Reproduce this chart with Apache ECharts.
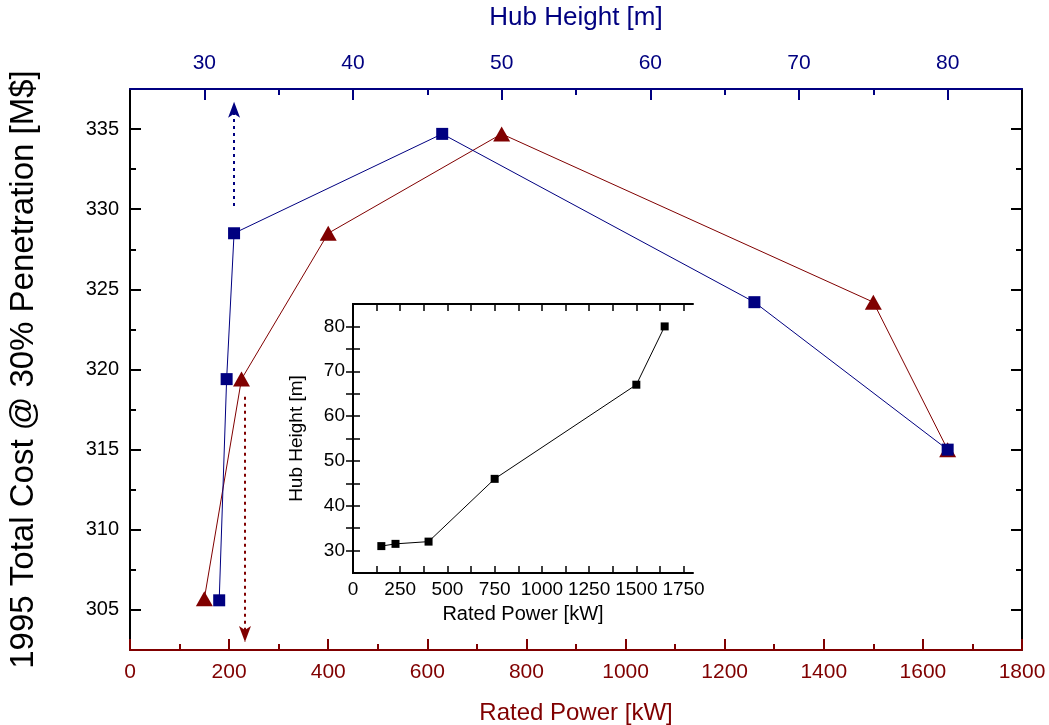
<!DOCTYPE html>
<html>
<head>
<meta charset="utf-8">
<script src="https://cdn.jsdelivr.net/npm/echarts@6/dist/echarts.min.js"></script>
<style>
  html, body { margin: 0; padding: 0; background: #fff; overflow: hidden; }
  #chart { width: 1049px; height: 725px; }
</style>
</head>
<body>
<div id="chart"></div>
<script>
// ---- data ----
const ratedPowerKW = [150, 225, 400, 750, 1500, 1650];
const hubHeightM   = [31, 31.5, 32, 46, 67, 80];
const costVsPower  = [305.7, 319.4, 328.5, 334.7, 324.2, 315.0];
const costVsHeight = [305.6, 319.4, 328.5, 334.7, 324.2, 315.0];

// arrows (data space): [start, end]
const heightArrow = [[32, 330.2], [32, 336.7]];
const powerArrow  = [[232, 318.3], [232, 303.0]];

// ticks
const powerTicks      = [0, 200, 400, 600, 800, 1000, 1200, 1400, 1600, 1800];
const heightTicks     = [30, 40, 50, 60, 70, 80];
const heightMinor     = [35, 45, 55, 65, 75];
const costTicks       = [305, 310, 315, 320, 325, 330, 335];
const costMinor       = [307.5, 312.5, 317.5, 322.5, 327.5, 332.5];
const insetPowerTicks = [0, 250, 500, 750, 1000, 1250, 1500, 1750];
const insetPowerMinor = [125, 375, 625, 875, 1125, 1375, 1625];
const insetHeightTicks = [30, 40, 50, 60, 70, 80];
const insetHeightMinor = [35, 45, 55, 65, 75];

const NAVY = '#000080';
const DRED = '#800000';
const SANS = "'Liberation Sans', Arial, sans-serif";
const plain = (v) => String(v);

const zip = (a, b) => a.map((v, i) => [v, b[i]]);

const chart = echarts.init(document.getElementById('chart'), null, { renderer: 'canvas' });

const option = {
  animation: false,
  backgroundColor: '#fff',
  grid: [
    { left: 130, right: 27, top: 89, bottom: 75, containLabel: false, outerBoundsMode: 'none' },
    { left: 353, top: 304, width: 340, height: 269, show: true, backgroundColor: '#fff', borderWidth: 0, containLabel: false, outerBoundsMode: 'none' }
  ],
  xAxis: [
    { // 0 bottom rated power
      type: 'value', gridIndex: 0, position: 'bottom', min: 0, max: 1800, interval: 200,
      axisLine: { show: true, lineStyle: { color: DRED, width: 2 } },
      axisTick: { show: true, inside: true, length: 11, lineStyle: { color: DRED, width: 2 } },
      minorTick: { show: true, splitNumber: 2, length: 6, lineStyle: { color: DRED, width: 2 } },
      splitLine: { show: false },
      axisLabel: { color: DRED, fontFamily: SANS, fontSize: 21, margin: 12, formatter: plain },
      name: 'Rated Power [kW]', nameLocation: 'middle', nameGap: 51,
      nameTextStyle: { color: DRED, fontFamily: SANS, fontSize: 24 }
    },
    { // 1 top hub height
      type: 'value', gridIndex: 0, position: 'top', min: 25, max: 85,
      axisLine: { show: true, lineStyle: { color: NAVY, width: 2 } },
      axisTick: { show: true, inside: true, length: 11, customValues: heightTicks, lineStyle: { color: NAVY, width: 2 } },
      splitLine: { show: false },
      axisLabel: { color: NAVY, fontFamily: SANS, fontSize: 21, margin: 15, customValues: heightTicks, formatter: plain },
      name: 'Hub Height [m]', nameLocation: 'middle', nameGap: 58,
      nameTextStyle: { color: NAVY, fontFamily: SANS, fontSize: 26 }
    },
    { // 2 top minor ticks
      type: 'value', gridIndex: 0, position: 'top', min: 25, max: 85,
      axisLine: { show: false },
      axisTick: { show: true, inside: true, length: 6, customValues: heightMinor, lineStyle: { color: NAVY, width: 2 } },
      splitLine: { show: false },
      axisLabel: { show: false }
    },
    { // 3 inset bottom
      type: 'value', gridIndex: 1, position: 'bottom', min: 0, max: 1800,
      axisLine: { show: true, lineStyle: { color: '#000', width: 2 } },
      axisTick: { show: true, inside: true, length: 7, customValues: insetPowerTicks.concat(insetPowerMinor), lineStyle: { color: '#000', width: 1.5 } },
      splitLine: { show: false },
      axisLabel: { color: '#000', fontFamily: SANS, fontSize: 19, margin: 7, customValues: insetPowerTicks, formatter: plain },
      name: 'Rated Power [kW]', nameLocation: 'middle', nameGap: 31,
      nameTextStyle: { color: '#000', fontFamily: SANS, fontSize: 20 }
    },
    { // 4 inset top
      type: 'value', gridIndex: 1, position: 'top', min: 0, max: 1800,
      axisLine: { show: true, lineStyle: { color: '#000', width: 2 } },
      axisTick: { show: true, inside: true, length: 7, customValues: insetPowerTicks.concat(insetPowerMinor), lineStyle: { color: '#000', width: 1.5 } },
      splitLine: { show: false },
      axisLabel: { show: false }
    }
  ],
  yAxis: [
    { // 0 left cost
      type: 'value', gridIndex: 0, position: 'left', min: 302.5, max: 337.5,
      axisLine: { show: true, lineStyle: { color: '#000', width: 2 } },
      axisTick: { show: true, inside: true, length: 11, customValues: costTicks, lineStyle: { color: '#000', width: 2 } },
      splitLine: { show: false },
      axisLabel: { color: '#000', fontFamily: SANS, fontSize: 20, margin: 11, customValues: costTicks, formatter: plain },
      name: '1995 Total Cost @ 30% Penetration [M$]', nameLocation: 'middle', nameGap: 90, nameRotate: 90,
      nameTextStyle: { color: '#000', fontFamily: SANS, fontSize: 33 }
    },
    { // 1 left minor
      type: 'value', gridIndex: 0, position: 'left', min: 302.5, max: 337.5,
      axisLine: { show: false },
      axisTick: { show: true, inside: true, length: 6, customValues: costMinor, lineStyle: { color: '#000', width: 2 } },
      splitLine: { show: false },
      axisLabel: { show: false }
    },
    { // 2 right
      type: 'value', gridIndex: 0, position: 'right', min: 302.5, max: 337.5,
      axisLine: { show: true, lineStyle: { color: '#000', width: 2 } },
      axisTick: { show: true, inside: true, length: 11, customValues: costTicks, lineStyle: { color: '#000', width: 2 } },
      splitLine: { show: false },
      axisLabel: { show: false }
    },
    { // 3 right minor
      type: 'value', gridIndex: 0, position: 'right', min: 302.5, max: 337.5,
      axisLine: { show: false },
      axisTick: { show: true, inside: true, length: 6, customValues: costMinor, lineStyle: { color: '#000', width: 2 } },
      splitLine: { show: false },
      axisLabel: { show: false }
    },
    { // 4 inset left
      type: 'value', gridIndex: 1, position: 'left', min: 25, max: 85,
      axisLine: { show: true, lineStyle: { color: '#000', width: 2 } },
      axisTick: { show: true, inside: true, length: 7, customValues: insetHeightTicks.concat(insetHeightMinor), lineStyle: { color: '#000', width: 1.5 } },
      splitLine: { show: false },
      axisLabel: { color: '#000', fontFamily: SANS, fontSize: 19, margin: 8, customValues: insetHeightTicks, formatter: plain },
      name: 'Hub Height [m]', nameLocation: 'middle', nameGap: 47, nameRotate: 90,
      nameTextStyle: { color: '#000', fontFamily: SANS, fontSize: 19 }
    },
    { // 5 inset right
      type: 'value', gridIndex: 1, position: 'right', min: 25, max: 85,
      axisLine: { show: true, lineStyle: { color: '#000', width: 2 } },
      axisTick: { show: true, inside: true, length: 7, customValues: insetHeightTicks.concat(insetHeightMinor), lineStyle: { color: '#000', width: 1.5 } },
      splitLine: { show: false },
      axisLabel: { show: false }
    }
  ],
  series: [
    {
      name: 'Cost vs Rated Power', type: 'line', xAxisIndex: 0, yAxisIndex: 0,
      data: zip(ratedPowerKW, costVsPower),
      symbol: 'triangle', symbolSize: [17, 15],
      lineStyle: { color: DRED, width: 1 },
      itemStyle: { color: DRED },
      z: 3,
      markLine: {
        silent: true, symbol: ['none', 'arrow'], symbolSize: [9, 16],
        lineStyle: { color: DRED, type: [3, 4], width: 2 },
        label: { show: false },
        data: [[{ coord: powerArrow[0] }, { coord: powerArrow[1] }]]
      }
    },
    {
      name: 'Cost vs Hub Height', type: 'line', xAxisIndex: 1, yAxisIndex: 0,
      data: zip(hubHeightM, costVsHeight),
      symbol: 'rect', symbolSize: 12,
      lineStyle: { color: NAVY, width: 1 },
      itemStyle: { color: NAVY },
      z: 4,
      markLine: {
        silent: true, symbol: ['none', 'arrow'], symbolSize: [9, 16],
        lineStyle: { color: NAVY, type: [3, 4], width: 2 },
        label: { show: false },
        data: [[{ coord: heightArrow[0] }, { coord: heightArrow[1] }]]
      }
    },
    {
      name: 'Hub Height vs Rated Power', type: 'line', xAxisIndex: 3, yAxisIndex: 4,
      data: zip(ratedPowerKW, hubHeightM),
      symbol: 'rect', symbolSize: 8,
      lineStyle: { color: '#000', width: 1 },
      itemStyle: { color: '#000' },
      z: 10
    }
  ]
};

chart.setOption(option);
</script>
</body>
</html>
